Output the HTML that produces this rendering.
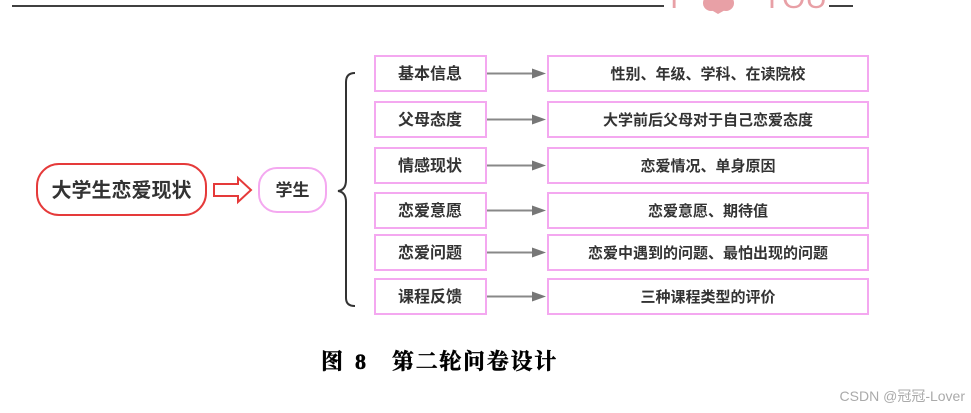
<!DOCTYPE html>
<html><head><meta charset="utf-8"><style>
html,body{margin:0;padding:0;background:#fff;}
svg{display:block;}
text{font-family:"Liberation Sans","Noto Sans CJK SC",sans-serif;}
</style></head><body>
<svg width="971" height="413" viewBox="0 0 971 413" xmlns="http://www.w3.org/2000/svg">
<line x1="12" y1="6" x2="664" y2="6" stroke="#000" stroke-width="1.5"/>
<line x1="829" y1="6" x2="853" y2="6" stroke="#000" stroke-width="1.5"/>
<g fill="#e8a0a6">
<text x="670" y="8" font-family="Liberation Serif,serif" font-size="30" fill="#e8a0a6">I</text>
<circle cx="711" cy="3" r="8"/><circle cx="726" cy="3" r="8"/>
<path d="M703 5 L718 14 L734 5Z"/>
<text x="762" y="8" font-family="Liberation Serif,serif" font-size="30" fill="#e8a0a6">YOU</text>
</g>
<rect x="37" y="164" width="169" height="51" rx="22" fill="#fff" stroke="#e53a3a" stroke-width="2"/>
<text x="121.5" y="197" font-size="20" font-weight="bold" text-anchor="middle" fill="#333">大学生恋爱现状</text>
<path d="M214 184 H238 V178 L251 190 L238 202 V196 H214 Z" fill="#fff" stroke="#e53a3a" stroke-width="2"/>
<rect x="259" y="168" width="67" height="44" rx="18" fill="#fff" stroke="#f4a8f0" stroke-width="2"/>
<text x="292.5" y="196" font-size="17" font-weight="bold" text-anchor="middle" fill="#333">学生</text>
<path d="M355 73 Q346 73 346 82 V180 Q346 190 338 191 Q346 192 346 202 V298 Q346 306 355 306" fill="none" stroke="#333" stroke-width="2"/>
<g font-size="16" font-weight="bold" fill="#333" text-anchor="middle">
<g>
<rect x="375" y="56" width="111" height="35" fill="#fff" stroke="#f4a8f0" stroke-width="2"/>
<text x="430" y="79">基本信息</text>
<rect x="548" y="56" width="320" height="35" fill="#fff" stroke="#f4a8f0" stroke-width="2"/>
<text x="708" y="79" font-size="15">性别、年级、学科、在读院校</text>
<line x1="487" y1="73.5" x2="533" y2="73.5" stroke="#888" stroke-width="2"/><path d="M532 68.5 L546 73.5 L532 78.5Z" fill="#777"/>
</g>
<g>
<rect x="375" y="102" width="111" height="35" fill="#fff" stroke="#f4a8f0" stroke-width="2"/>
<text x="430" y="125">父母态度</text>
<rect x="548" y="102" width="320" height="35" fill="#fff" stroke="#f4a8f0" stroke-width="2"/>
<text x="708" y="125" font-size="15">大学前后父母对于自己恋爱态度</text>
<line x1="487" y1="119.5" x2="533" y2="119.5" stroke="#888" stroke-width="2"/><path d="M532 114.5 L546 119.5 L532 124.5Z" fill="#777"/>
</g>
<g>
<rect x="375" y="148" width="111" height="35" fill="#fff" stroke="#f4a8f0" stroke-width="2"/>
<text x="430" y="171">情感现状</text>
<rect x="548" y="148" width="320" height="35" fill="#fff" stroke="#f4a8f0" stroke-width="2"/>
<text x="708" y="171" font-size="15">恋爱情况、单身原因</text>
<line x1="487" y1="165.5" x2="533" y2="165.5" stroke="#888" stroke-width="2"/><path d="M532 160.5 L546 165.5 L532 170.5Z" fill="#777"/>
</g>
<g>
<rect x="375" y="193" width="111" height="35" fill="#fff" stroke="#f4a8f0" stroke-width="2"/>
<text x="430" y="216">恋爱意愿</text>
<rect x="548" y="193" width="320" height="35" fill="#fff" stroke="#f4a8f0" stroke-width="2"/>
<text x="708" y="216" font-size="15">恋爱意愿、期待值</text>
<line x1="487" y1="210.5" x2="533" y2="210.5" stroke="#888" stroke-width="2"/><path d="M532 205.5 L546 210.5 L532 215.5Z" fill="#777"/>
</g>
<g>
<rect x="375" y="235" width="111" height="35" fill="#fff" stroke="#f4a8f0" stroke-width="2"/>
<text x="430" y="258">恋爱问题</text>
<rect x="548" y="235" width="320" height="35" fill="#fff" stroke="#f4a8f0" stroke-width="2"/>
<text x="708" y="258" font-size="15">恋爱中遇到的问题、最怕出现的问题</text>
<line x1="487" y1="252.5" x2="533" y2="252.5" stroke="#888" stroke-width="2"/><path d="M532 247.5 L546 252.5 L532 257.5Z" fill="#777"/>
</g>
<g>
<rect x="375" y="279" width="111" height="35" fill="#fff" stroke="#f4a8f0" stroke-width="2"/>
<text x="430" y="302">课程反馈</text>
<rect x="548" y="279" width="320" height="35" fill="#fff" stroke="#f4a8f0" stroke-width="2"/>
<text x="708" y="302" font-size="15">三种课程类型的评价</text>
<line x1="487" y1="296.5" x2="533" y2="296.5" stroke="#888" stroke-width="2"/><path d="M532 291.5 L546 296.5 L532 301.5Z" fill="#777"/>
</g>
</g>
<g font-size="22" fill="#000" stroke="#000" stroke-width="0.5" font-weight="bold">
<text x="321" y="369" style="font-family:'Noto Serif CJK SC',serif">图</text>
<text x="355" y="369" style="font-family:'Liberation Serif',serif">8</text>
<text x="392" y="369" letter-spacing="1.7" style="font-family:'Noto Serif CJK SC',serif">第二轮问卷设计</text>
</g>
<text x="965" y="401" font-size="14" text-anchor="end" fill="#aaa">CSDN @冠冠-Lover</text>
</svg>
</body></html>
